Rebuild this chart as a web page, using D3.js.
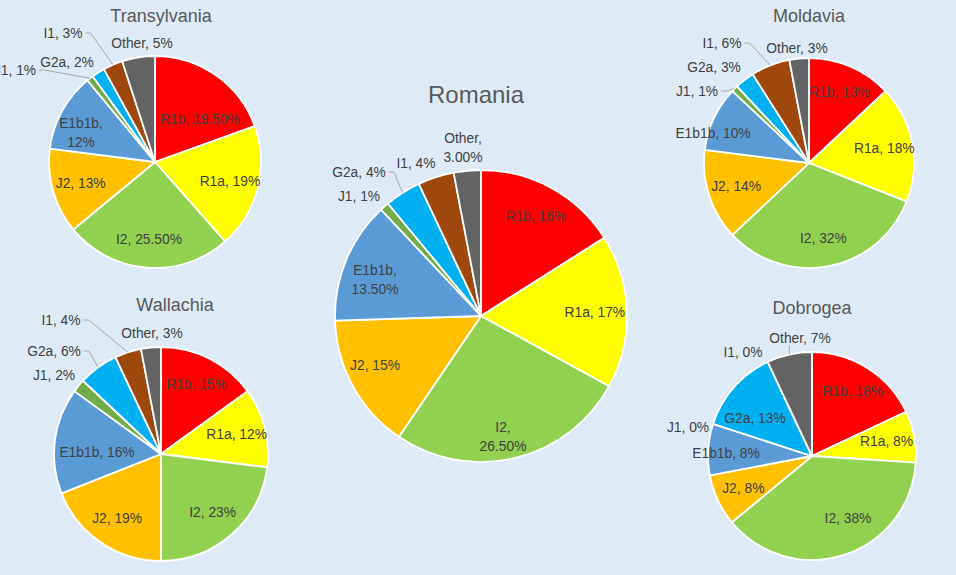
<!DOCTYPE html>
<html>
<head>
<meta charset="utf-8" />
<style>
  body { margin: 0; background: #DEEBF7; }
  svg { display: block; background: #DEEBF7; }
  .title { fill: #595959; font-family: "Liberation Sans", Arial, sans-serif; }
  .lbl { fill: #404040; font-family: "Liberation Sans", Arial, sans-serif; font-size: 13.8px; }
</style>
<script src="https://cdnjs.cloudflare.com/ajax/libs/d3/7.8.5/d3.min.js"></script>
</head>
<body>
<div id="chart"></div>
<script>
// haplogroups, clockwise from 12 o'clock
var groups = ["R1b", "R1a", "I2", "J2", "E1b1b", "J1", "G2a", "I1", "Other"];
var colors = ["#FF0000", "#FFFF00", "#92D050", "#FFC000", "#5B9BD5", "#70AD47", "#00B0F0", "#9E480E", "#636363"];

var transylvania = [19.5, 19, 25.5, 13, 12, 1, 2, 3, 5];
var moldavia     = [13, 18, 32, 14, 10, 1, 3, 6, 3];
var wallachia    = [15, 12, 23, 19, 16, 2, 6, 4, 3];
var dobrogea     = [18, 8, 38, 8, 8, 0, 13, 0, 7];
var romania      = [16, 17, 26.5, 15, 13.5, 1, 4, 4, 3];
var romaniaDigits = [0, 0, 2, 0, 2, 0, 0, 0, 2];

// layout: pie centre, radius, title, label placement
var charts = [
  { name: "Transylvania", values: transylvania, cx: 155, cy: 162, r: 106, tx: 161, ty: 16, tsize: 18, f: 0.73,
    place: { 0: [45, -43], 4: [-74, -29], 5: [-140, -92], 6: [-88, -100], 7: [-92, -129], 8: [-13, -119] },
    wrap: [4], leaders: [5, 7] },
  { name: "Moldavia", values: moldavia, cx: 809, cy: 163, r: 105, tx: 809, ty: 16, tsize: 18, f: 0.73,
    place: { 4: [-96, -30], 5: [-112, -72], 6: [-95, -96], 7: [-87, -120], 8: [-12, -115] },
    wrap: [], leaders: [5, 7] },
  { name: "Wallachia", values: wallachia, cx: 161, cy: 454, r: 107, tx: 175, ty: 305, tsize: 18, f: 0.73,
    place: { 4: [-64, -2], 5: [-107, -79], 6: [-107, -103], 7: [-100, -134], 8: [-9, -121] },
    wrap: [], leaders: [6, 7] },
  { name: "Dobrogea", values: dobrogea, cx: 812, cy: 456, r: 104, tx: 812, ty: 308, tsize: 18, f: 0.73,
    place: { 2: [36, 62], 4: [-86, -3], 5: [-124, -29], 6: [-57, -38], 7: [-69, -104], 8: [-12, -118] },
    wrap: [], leaders: [8] },
  { name: "Romania", values: romania, digits: romaniaDigits, cx: 481, cy: 316, r: 146, tx: 476, ty: 94, tsize: 24, f: 0.78,
    place: { 2: [22, 121], 3: [-106, 49], 4: [-106, -36], 5: [-122, -120], 6: [-122, -144], 7: [-65, -153], 8: [-18, -168] },
    wrap: [2, 4, 8], leaders: [6] }
];

var width = 956, height = 575;

var svg = d3.select("#chart").append("svg")
  .attr("width", width)
  .attr("height", height);

var pie = d3.pie().sort(null).value(function (d) { return d; });

charts.forEach(function (c) {
  var g = svg.append("g").attr("transform", "translate(" + c.cx + "," + c.cy + ")");
  var arc = d3.arc().innerRadius(0).outerRadius(c.r);
  var labelArc = d3.arc().innerRadius(c.r * c.f).outerRadius(c.r * c.f);
  var arcs = pie(c.values);

  g.selectAll("path.slice")
    .data(arcs)
    .enter().append("path")
    .attr("class", "slice")
    .attr("d", arc)
    .attr("fill", function (d, i) { return colors[i]; })
    .attr("stroke", "#fff")
    .attr("stroke-width", 1.8)
    .attr("stroke-linejoin", "round");

  svg.append("text")
    .attr("class", "title")
    .attr("x", c.tx)
    .attr("y", c.ty)
    .attr("text-anchor", "middle")
    .attr("dominant-baseline", "central")
    .style("font-size", c.tsize + "px")
    .text(c.name);

  arcs.forEach(function (d, i) {
    var pos = c.place[i] ? c.place[i] : labelArc.centroid(d);
    var digits = c.digits ? c.digits[i] : (d.data % 1 ? 2 : 0);
    var pct = d3.format("." + digits + "f")(d.data) + "%";
    var t = g.append("text")
      .attr("class", "lbl")
      .attr("x", pos[0])
      .attr("y", pos[1])
      .attr("text-anchor", "middle");

    if (c.wrap.indexOf(i) >= 0) {
      t.append("tspan").attr("x", pos[0]).attr("dy", "-0.22em").text(groups[i] + ",");
      t.append("tspan").attr("x", pos[0]).attr("dy", "1.4em").text(pct);
      t.attr("dominant-baseline", "auto");
      t.attr("y", pos[1] - 2);
    } else {
      t.attr("dominant-baseline", "central").text(groups[i] + ", " + pct);
    }

    if (c.leaders.indexOf(i) >= 0) {
      var mid = (d.startAngle + d.endAngle) / 2;
      var ex = Math.sin(mid) * c.r, ey = -Math.cos(mid) * c.r;
      var bb = t.node().getBBox();
      var pts;
      if (ex > bb.x && ex < bb.x + bb.width) {
        pts = [[ex, bb.y + bb.height], [ex, ey]];
      } else {
        var sx = bb.x + bb.width + 3, sy = bb.y + bb.height / 2;
        pts = [[sx, sy], [sx + 5, sy], [ex, ey]];
      }
      g.append("path")
        .attr("d", d3.line()(pts))
        .attr("fill", "none")
        .attr("stroke", "#A6A6A6")
        .attr("stroke-width", 1);
    }
  });
});
</script>
</body>
</html>
